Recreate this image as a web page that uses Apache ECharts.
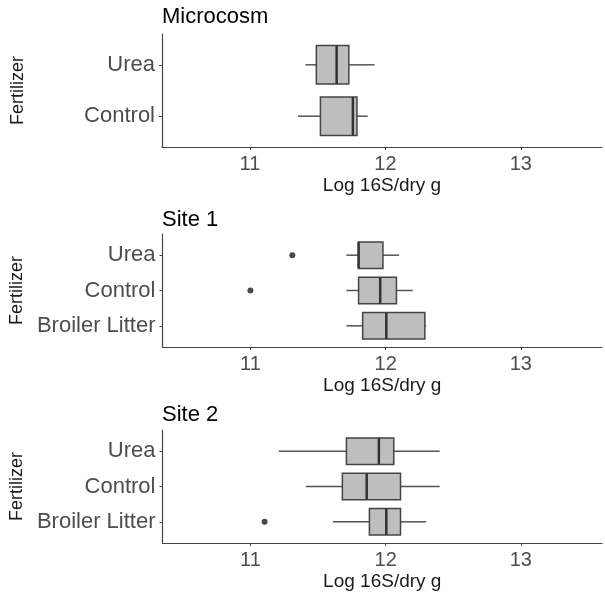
<!DOCTYPE html>
<html>
<head>
<meta charset="utf-8">
<script src="https://cdn.jsdelivr.net/npm/echarts@6/dist/echarts.min.js"></script>
<style>
  html, body { margin: 0; padding: 0; background: #fff; }
  #chart { width: 605px; height: 594px; }
</style>
</head>
<body>
<div id="chart"></div>
<script>
// categories listed bottom -> top
const microcosmCats = ['Control', 'Urea'];
const siteCats = ['Broiler Litter', 'Control', 'Urea'];

// [category position, min, q1, median, q3, max]
const microcosmBox = [
  [1, 11.355, 11.52, 11.76, 11.79, 11.87],
  [2, 11.41, 11.49, 11.64, 11.73, 11.92]
];
const site1Box = [
  [1, 11.71, 11.83, 12.005, 12.29, 12.30],
  [2, 11.71, 11.80, 11.96, 12.08, 12.20],
  [3, 11.71, 11.80, 11.80, 11.98, 12.10]
];
const site2Box = [
  [1, 11.61, 11.88, 12.005, 12.11, 12.30],
  [2, 11.41, 11.68, 11.86, 12.11, 12.40],
  [3, 11.21, 11.71, 11.95, 12.06, 12.40]
];
// outliers: [value, category position]
const site1Outliers = [[11.31, 3], [11.0, 2]];
const site2Outliers = [[11.105, 1]];

const xTicks = [11, 12, 13];
const panelTitles = ['Microcosm', 'Site 1', 'Site 2'];

const font = 'Liberation Sans, Arial, sans-serif';
const tops = [34, 234, 430];

function renderBox(params, api) {
  const c = api.value(0);
  const pMin = api.coord([api.value(1), c]);
  const pQ1 = api.coord([api.value(2), c]);
  const pMed = api.coord([api.value(3), c]);
  const pQ3 = api.coord([api.value(4), c]);
  const pMax = api.coord([api.value(5), c]);
  const h = api.size([0, 0.75])[1];
  const y = pMin[1];
  return {
    type: 'group',
    children: [
      { type: 'line', shape: { x1: pMin[0], y1: y, x2: pQ1[0], y2: y }, style: { stroke: '#555', lineWidth: 1.5 } },
      { type: 'line', shape: { x1: pQ3[0], y1: y, x2: pMax[0], y2: y }, style: { stroke: '#555', lineWidth: 1.5 } },
      { type: 'rect', shape: { x: pQ1[0], y: y - h / 2, width: pQ3[0] - pQ1[0], height: h },
        style: { fill: '#bebebe', stroke: '#444', lineWidth: 1.5 } },
      { type: 'line', shape: { x1: pMed[0], y1: y - h / 2, x2: pMed[0], y2: y + h / 2 },
        style: { stroke: '#333', lineWidth: 2.5 } }
    ]
  };
}

function makeX(i) {
  return {
    gridIndex: i, type: 'value', min: 10.35, max: 13.6,
    name: 'Log 16S/dry g', nameLocation: 'middle', nameGap: 29,
    nameTextStyle: { fontFamily: font, fontSize: 19, color: '#1a1a1a' },
    axisLine: { show: true, lineStyle: { color: '#444', width: 1.2 } },
    axisTick: { show: true, length: 3, customValues: xTicks, lineStyle: { color: '#444' } },
    axisLabel: { customValues: xTicks, margin: 7, fontFamily: font, fontSize: 20, color: '#4d4d4d' },
    splitLine: { show: false }
  };
}

function makeY(i, cats) {
  const pos = cats.map((c, k) => k + 1);
  return {
    gridIndex: i, type: 'value', min: 0.4, max: cats.length + 0.6,
    name: 'Fertilizer', nameLocation: 'middle', nameGap: 135, nameRotate: 90,
    nameTextStyle: { fontFamily: font, fontSize: 18, color: '#1a1a1a' },
    axisLine: { show: true, lineStyle: { color: '#444', width: 1.2 } },
    axisTick: { show: true, length: 3, customValues: pos, lineStyle: { color: '#444' } },
    axisLabel: { customValues: pos, margin: 7, fontFamily: font, fontSize: 22, color: '#4d4d4d',
      formatter: v => cats[Math.round(v) - 1] },
    splitLine: { show: false }
  };
}

const boxData = [microcosmBox, site1Box, site2Box];
const outlierData = [[], site1Outliers, site2Outliers];
const catSets = [microcosmCats, siteCats, siteCats];

const series = [];
boxData.forEach((d, i) => {
  series.push({
    type: 'custom', xAxisIndex: i, yAxisIndex: i,
    renderItem: renderBox, encode: { x: [1, 2, 3, 4, 5], y: 0 },
    data: d, silent: true
  });
  if (outlierData[i].length) {
    series.push({
      type: 'scatter', xAxisIndex: i, yAxisIndex: i,
      symbolSize: 6, itemStyle: { color: '#1a1a1a' },
      data: outlierData[i], silent: true
    });
  }
});

const chart = echarts.init(document.getElementById('chart'));
chart.setOption({
  animation: false,
  backgroundColor: '#fff',
  title: panelTitles.map((t, i) => ({
    text: t, left: 162, top: [6, 209, 404][i], padding: 0,
    textStyle: { fontFamily: font, fontSize: 22, fontWeight: 'normal', color: '#000' }
  })),
  grid: tops.map(t => ({ left: 162, right: 3, top: t, height: 113 })),
  xAxis: [0, 1, 2].map(makeX),
  yAxis: [0, 1, 2].map(i => makeY(i, catSets[i])),
  series: series
});
</script>
</body>
</html>
